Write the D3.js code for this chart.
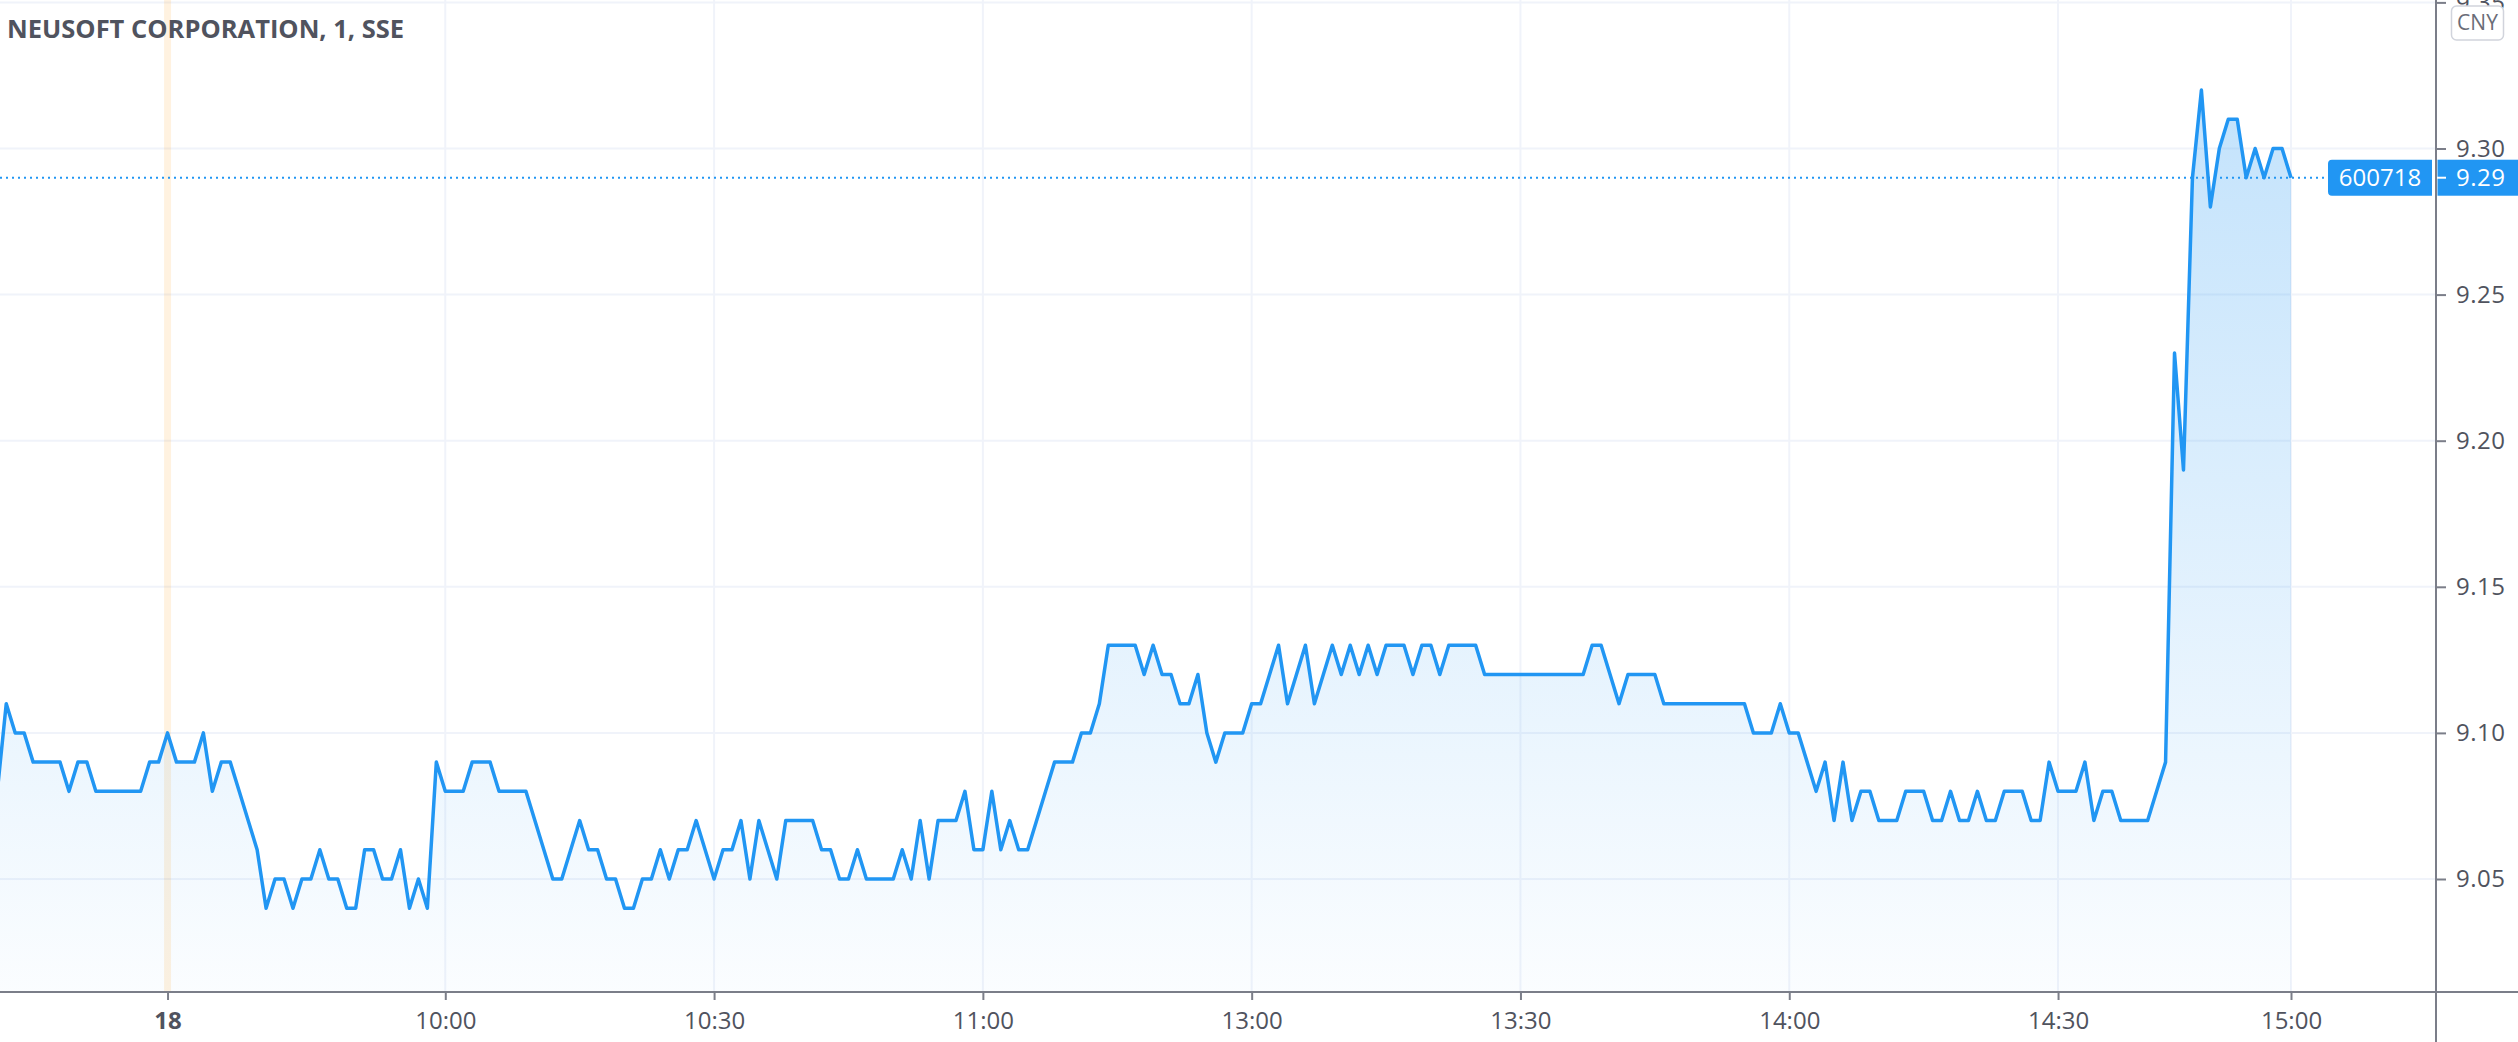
<!DOCTYPE html>
<html>
<head>
<meta charset="utf-8">
<script src="https://cdn.jsdelivr.net/npm/d3@7"></script>
<style>
  html, body { margin: 0; padding: 0; background: #ffffff; }
  svg { display: block; font-family: "Open Sans", sans-serif; }
</style>
</head>
<body>
<div id="chart"></div>
<script>
////////////////////////////////////////////////////////////////
// Data

var title = "NEUSOFT CORPORATION, 1, SSE";
var symbol = "600718";
var currency = "CNY";
var lastPrice = 9.29;

// trading sessions (day, first minute, last minute) -> one bar per minute
var sessions = [
    ["17", "14:38", "14:55"],
    ["17", "15:00", "15:00"],
    ["18", "09:25", "09:25"],
    ["18", "09:30", "11:29"],
    ["18", "13:00", "14:55"],
    ["18", "15:00", "15:00"]
];

// close of each 1 minute bar
var prices = [
    // 17th, 14:38 - 15:00
    9.08, 9.11, 9.10, 9.10, 9.09, 9.09, 9.09, 9.09, 9.08, 9.09, 9.09, 9.08, 9.08, 9.08, 9.08, 9.08, 9.08, 9.09, 9.09,
    // 18th, 09:25
    9.10,
    // 09:30 - 09:59
    9.09, 9.09, 9.09, 9.10, 9.08, 9.09, 9.09, 9.08, 9.07, 9.06, 9.04, 9.05, 9.05, 9.04, 9.05,
    9.05, 9.06, 9.05, 9.05, 9.04, 9.04, 9.06, 9.06, 9.05, 9.05, 9.06, 9.04, 9.05, 9.04, 9.09,
    // 10:00 - 10:29
    9.08, 9.08, 9.08, 9.09, 9.09, 9.09, 9.08, 9.08, 9.08, 9.08, 9.07, 9.06, 9.05, 9.05, 9.06,
    9.07, 9.06, 9.06, 9.05, 9.05, 9.04, 9.04, 9.05, 9.05, 9.06, 9.05, 9.06, 9.06, 9.07, 9.06,
    // 10:30 - 10:59
    9.05, 9.06, 9.06, 9.07, 9.05, 9.07, 9.06, 9.05, 9.07, 9.07, 9.07, 9.07, 9.06, 9.06, 9.05,
    9.05, 9.06, 9.05, 9.05, 9.05, 9.05, 9.06, 9.05, 9.07, 9.05, 9.07, 9.07, 9.07, 9.08, 9.06,
    // 11:00 - 11:29
    9.06, 9.08, 9.06, 9.07, 9.06, 9.06, 9.07, 9.08, 9.09, 9.09, 9.09, 9.10, 9.10, 9.11, 9.13,
    9.13, 9.13, 9.13, 9.12, 9.13, 9.12, 9.12, 9.11, 9.11, 9.12, 9.10, 9.09, 9.10, 9.10, 9.10,
    // 13:00 - 13:29
    9.11, 9.11, 9.12, 9.13, 9.11, 9.12, 9.13, 9.11, 9.12, 9.13, 9.12, 9.13, 9.12, 9.13, 9.12,
    9.13, 9.13, 9.13, 9.12, 9.13, 9.13, 9.12, 9.13, 9.13, 9.13, 9.13, 9.12, 9.12, 9.12, 9.12,
    // 13:30 - 13:59
    9.12, 9.12, 9.12, 9.12, 9.12, 9.12, 9.12, 9.12, 9.13, 9.13, 9.12, 9.11, 9.12, 9.12, 9.12,
    9.12, 9.11, 9.11, 9.11, 9.11, 9.11, 9.11, 9.11, 9.11, 9.11, 9.11, 9.10, 9.10, 9.10, 9.11,
    // 14:00 - 14:29
    9.10, 9.10, 9.09, 9.08, 9.09, 9.07, 9.09, 9.07, 9.08, 9.08, 9.07, 9.07, 9.07, 9.08, 9.08,
    9.08, 9.07, 9.07, 9.08, 9.07, 9.07, 9.08, 9.07, 9.07, 9.08, 9.08, 9.08, 9.07, 9.07, 9.09,
    // 14:30 - 14:55
    9.08, 9.08, 9.08, 9.09, 9.07, 9.08, 9.08, 9.07, 9.07, 9.07, 9.07, 9.08, 9.09, 9.23, 9.19,
    9.29, 9.32, 9.28, 9.30, 9.31, 9.31, 9.29, 9.30, 9.29, 9.30, 9.30,
    // 15:00
    9.29
];

// time axis labels
var tickKeys = ["18 09:25", "18 10:00", "18 10:30", "18 11:00", "18 13:00", "18 13:30", "18 14:00", "18 14:30", "18 15:00"];
var tickLabels = ["18", "10:00", "10:30", "11:00", "13:00", "13:30", "14:00", "14:30", "15:00"];

// price axis labels
var priceTicks = [9.05, 9.10, 9.15, 9.20, 9.25, 9.30, 9.35];

////////////////////////////////////////////////////////////////
// Basic parameters

var svgWidth = 2518;
var svgHeight = 1042;
var plotRight = 2436;   // price scale border
var plotBottom = 991;   // time scale border

var lineColor = "#2196f3";
var gridColor = "#f0f3fa";
var axisColor = "#7b7e89";
var textColor = "#50535e";

function minuteRange(day, start, end) {
    var toMin = s => +s.slice(0, 2) * 60 + +s.slice(3, 5);
    var out = [];
    for (var m = toMin(start); m <= toMin(end); m++) {
        out.push(day + " " + String(Math.floor(m / 60)).padStart(2, "0") + ":" + String(m % 60).padStart(2, "0"));
    }
    return out;
}

var bars = [];
sessions.forEach(s => { bars = bars.concat(minuteRange(s[0], s[1], s[2])); });

var data = bars.map((k, i) => ({ key: k, price: prices[i] }));

var svg = d3.select("#chart")
    .append("svg")
    .attr("width", svgWidth)
    .attr("height", svgHeight);

// scales
var xScale = d3.scalePoint()
    .domain(bars)
    .range([-2.7, 2291]);

var yScale = d3.scaleLinear()
    .domain([9.01167, 9.35082])
    .range([plotBottom, 0]);

////////////////////////////////////////////////////////////////
// Grid

var defs = svg.append("defs");
defs.append("clipPath").attr("id", "plotClip")
    .append("rect").attr("x", 0).attr("y", 0).attr("width", plotRight).attr("height", plotBottom);

var grad = defs.append("linearGradient")
    .attr("id", "areaFill")
    .attr("gradientUnits", "userSpaceOnUse")
    .attr("x1", 0).attr("x2", 0)
    .attr("y1", yScale(d3.max(prices))).attr("y2", plotBottom);
grad.append("stop").attr("offset", 0).attr("stop-color", lineColor).attr("stop-opacity", 0.27);
grad.append("stop").attr("offset", 1).attr("stop-color", lineColor).attr("stop-opacity", 0.02);

var grid = svg.append("g").attr("clip-path", "url(#plotClip)");

grid.selectAll(".hgrid")
    .data(priceTicks)
    .enter()
    .append("line")
    .attr("x1", 0).attr("x2", plotRight)
    .attr("y1", d => yScale(d)).attr("y2", d => yScale(d))
    .attr("stroke", gridColor)
    .attr("stroke-width", 2);

grid.selectAll(".vgrid")
    .data(tickKeys.slice(1))
    .enter()
    .append("line")
    .attr("x1", d => xScale(d)).attr("x2", d => xScale(d))
    .attr("y1", 0).attr("y2", plotBottom)
    .attr("stroke", gridColor)
    .attr("stroke-width", 2);

// session break
grid.append("line")
    .attr("x1", xScale(tickKeys[0])).attr("x2", xScale(tickKeys[0]))
    .attr("y1", 0).attr("y2", plotBottom)
    .attr("stroke", "#ff9800")
    .attr("stroke-opacity", 0.12)
    .attr("stroke-width", 7);

////////////////////////////////////////////////////////////////
// Area + line

var plot = svg.append("g").attr("clip-path", "url(#plotClip)");

plot.append("path")
    .datum(data)
    .attr("fill", "url(#areaFill)")
    .attr("d", d3.area()
        .x(d => xScale(d.key))
        .y0(plotBottom)
        .y1(d => yScale(d.price)));

plot.append("path")
    .datum(data)
    .attr("fill", "none")
    .attr("stroke", lineColor)
    .attr("stroke-width", 3.5)
    .attr("stroke-linejoin", "round")
    .attr("d", d3.line()
        .x(d => xScale(d.key))
        .y(d => yScale(d.price)));

// last price dotted line
plot.append("line")
    .attr("x1", 0).attr("x2", 2328)
    .attr("y1", yScale(lastPrice)).attr("y2", yScale(lastPrice))
    .attr("stroke", lineColor)
    .attr("stroke-width", 2)
    .attr("stroke-dasharray", "2,4");

////////////////////////////////////////////////////////////////
// Axes

var bottomAxis = d3.axisBottom(xScale)
    .tickValues(tickKeys)
    .tickFormat((d, i) => tickLabels[i])
    .tickSizeInner(9)
    .tickSizeOuter(0)
    .tickPadding(12);

var xAxis = svg.append("g")
    .attr("transform", `translate(0, ${plotBottom})`)
    .call(bottomAxis);

xAxis.select(".domain").remove();
xAxis.selectAll("line").attr("stroke", axisColor).attr("stroke-width", 2);
xAxis.selectAll("text")
    .attr("fill", textColor)
    .attr("font-size", 24)
    .attr("font-family", "Open Sans")
    .attr("font-weight", (d, i) => i === 0 ? "bold" : "normal");

var rightAxis = d3.axisRight(yScale)
    .tickValues(priceTicks)
    .tickFormat(d3.format(".2f"))
    .tickSizeInner(10)
    .tickSizeOuter(0)
    .tickPadding(10);

var yAxis = svg.append("g")
    .attr("transform", `translate(${plotRight}, 0)`)
    .call(rightAxis);

yAxis.select(".domain").remove();
yAxis.selectAll("line").attr("stroke", axisColor).attr("stroke-width", 2);
yAxis.selectAll("text")
    .attr("fill", textColor)
    .attr("font-size", 24)
    .attr("letter-spacing", 0.5)
    .attr("font-family", "Open Sans");

// border lines
svg.append("line")
    .attr("x1", 0).attr("x2", svgWidth)
    .attr("y1", plotBottom + 1).attr("y2", plotBottom + 1)
    .attr("stroke", axisColor).attr("stroke-width", 2);

svg.append("line")
    .attr("x1", plotRight).attr("x2", plotRight)
    .attr("y1", 0).attr("y2", svgHeight)
    .attr("stroke", axisColor).attr("stroke-width", 2);

////////////////////////////////////////////////////////////////
// Last price labels

var ly = yScale(lastPrice);

svg.append("path")
    .attr("d", `M2332,${ly - 18} H2432 V${ly + 18} H2332 Q2328,${ly + 18} 2328,${ly + 14} V${ly - 14} Q2328,${ly - 18} 2332,${ly - 18} Z`)
    .attr("fill", lineColor);

svg.append("text")
    .attr("x", 2380).attr("y", ly)
    .attr("dy", "0.35em")
    .attr("text-anchor", "middle")
    .attr("fill", "#ffffff")
    .attr("font-size", 24)
    .text(symbol);

svg.append("rect")
    .attr("x", plotRight + 1.5).attr("y", ly - 18)
    .attr("width", svgWidth - plotRight).attr("height", 36)
    .attr("fill", lineColor);

svg.append("line")
    .attr("x1", plotRight + 1).attr("x2", plotRight + 10)
    .attr("y1", ly).attr("y2", ly)
    .attr("stroke", "#ffffff").attr("stroke-width", 2);

svg.append("text")
    .attr("x", plotRight + 20).attr("y", ly)
    .attr("dy", "0.35em")
    .attr("fill", "#ffffff")
    .attr("font-size", 24)
    .attr("letter-spacing", 0.5)
    .text(d3.format(".2f")(lastPrice));

////////////////////////////////////////////////////////////////
// Currency badge + title

svg.append("rect")
    .attr("x", 2451.5).attr("y", 6)
    .attr("width", 52).attr("height", 34)
    .attr("rx", 5)
    .attr("fill", "#ffffff")
    .attr("stroke", "#d1d4dc")
    .attr("stroke-width", 1.5);

svg.append("text")
    .attr("x", 2477.5).attr("y", 23)
    .attr("dy", "0.35em")
    .attr("text-anchor", "middle")
    .attr("fill", "#6a6d78")
    .attr("font-size", 21)
    .text(currency);

svg.append("text")
    .attr("x", 7)
    .attr("y", 38)
    .attr("fill", textColor)
    .attr("font-size", 25.5)
    .attr("font-weight", "bold")
    .text(title);
</script>
</body>
</html>
